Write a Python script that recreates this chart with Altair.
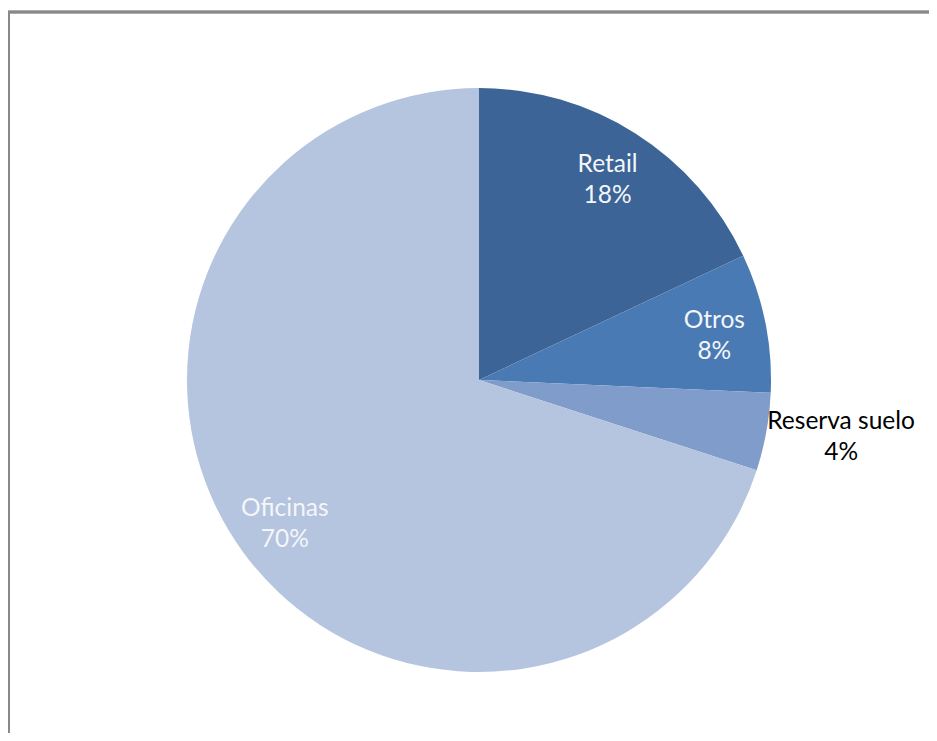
import altair as alt
import pandas as pd

categories = ["Retail", "Otros", "Reserva suelo", "Oficinas"]
values = [18.0, 7.7, 4.3, 70.0]
labels = ["18%", "8%", "4%", "70%"]
colors = ["#3C6497", "#4A7AB4", "#7F9CCA", "#B5C4DF"]

df = pd.DataFrame({
    "cat": categories,
    "value": values,
    "pct": labels,
    "idx": list(range(len(categories))),
})
df["label"] = [[c, p] for c, p in zip(categories, labels)]

CX, CY = 471, 372

pie = alt.Chart(df).mark_arc(radius=292).encode(
    theta=alt.Theta("value:Q", stack=True),
    order=alt.Order("idx:Q"),
    x=alt.value(CX),
    y=alt.value(CY),
    color=alt.Color("cat:N", scale=alt.Scale(domain=categories, range=colors), legend=None),
)

text_base = alt.Chart(df).transform_window(
    cum="sum(value)", sort=[alt.SortField("idx")]
).transform_calculate(
    mid="datum.cum - datum.value / 2"
).encode(
    theta=alt.Theta("mid:Q", scale=alt.Scale(domain=[0, 100], range=[0, 6.283185307])),
    x=alt.value(CX),
    y=alt.value(CY),
    text="label",
)

text_in = text_base.transform_filter(alt.datum.cat != "Reserva suelo").mark_text(
    font="Lato", fontSize=24.5, lineHeight=31, baseline="middle", align="center",
    radius=240, dy=-12, color="#F4F6FA",
)
text_out = text_base.transform_filter(alt.datum.cat == "Reserva suelo").mark_text(
    font="Lato", fontSize=24.5, lineHeight=31, baseline="middle", align="center",
    radius=368, dy=-24, color="#000000",
)

frame = alt.Chart(df).mark_rect(fill=None, stroke="#898989", strokeWidth=2.5).encode(
    x=alt.value(0.5), x2=alt.value(1200), y=alt.value(4), y2=alt.value(1200)
)

chart = alt.layer(frame, pie, text_in, text_out).resolve_scale(theta="independent").properties(
    width=921, height=725, padding=0, autosize="none"
).configure_view(stroke=None)

chart.save("out.html", embed_options={"renderer": "svg", "actions": False})
